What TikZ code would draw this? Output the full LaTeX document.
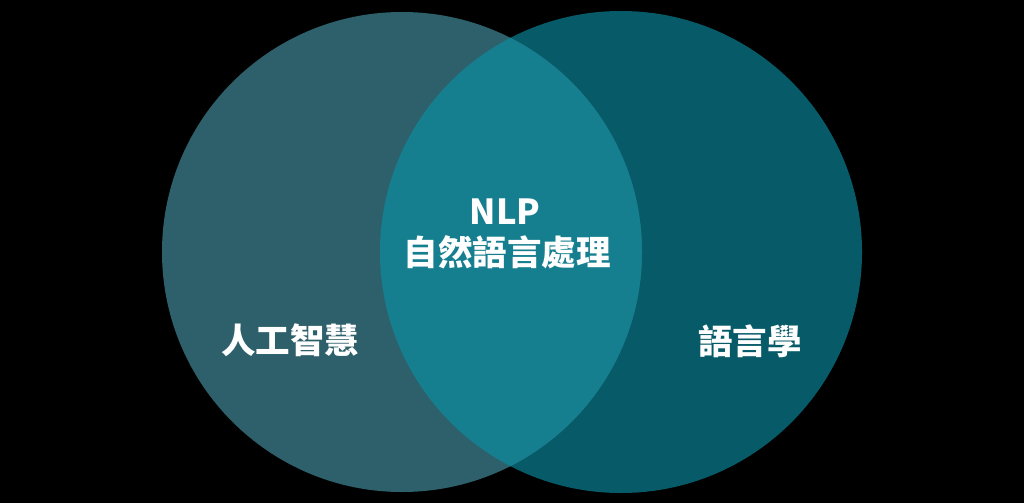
\documentclass[tikz,border=0pt]{standalone}
\usepackage{fontspec}
\newfontfamily\cjk{Noto Sans CJK TC}
\definecolor{leftc}{HTML}{2D606B}
\definecolor{rightc}{HTML}{075B68}
\definecolor{midc}{HTML}{167F8F}
\tikzset{lbl/.style={text=white,font=\cjk\bfseries\fontsize{34.5}{41}\selectfont,inner sep=0pt,anchor=center}}
\begin{document}
\begin{tikzpicture}[x=1pt,y=-1pt]
\fill[black] (0,0) rectangle (1024,503);
\useasboundingbox (0,0) rectangle (1024,503);
\coordinate (cl) at (402,252);
\coordinate (cr) at (621,252);
\fill[rightc] (cr) circle[radius=241];
\fill[leftc] (cl) circle[radius=240];
\begin{scope}
\clip (cl) circle[radius=240];
\fill[midc] (cr) circle[radius=241];
\end{scope}
\node[lbl] (nlp) at (505,212) {NLP};
\node[lbl] (nlpzh) at (507,252) {自然語言處理};
\node[lbl] (ai) at (290,340) {人工智慧};
\node[lbl] (ling) at (750,341) {語言學};
\end{tikzpicture}
\end{document}
